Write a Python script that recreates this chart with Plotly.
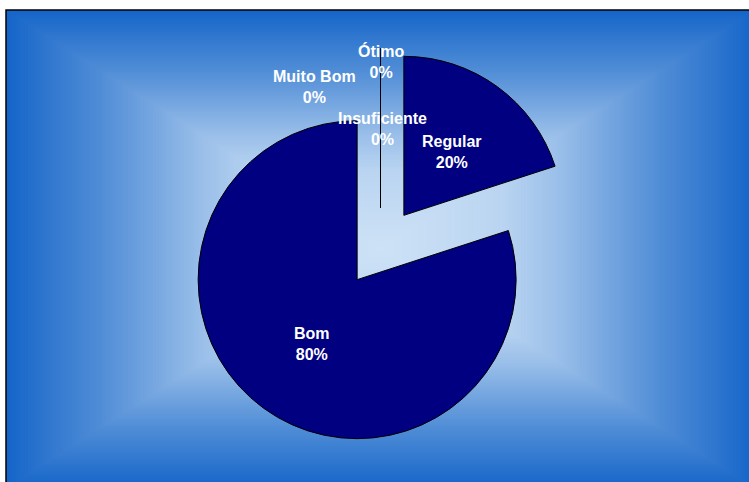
import plotly.graph_objects as go

# Data (clockwise from 12 o'clock)
categories = ["Insuficiente", "Regular", "Bom", "Muito Bom", "Ótimo"]
values = [0, 20, 80, 0, 0]
percent_labels = ["0%", "20%", "80%", "0%", "0%"]

W, H = 749, 482

fig = go.Figure()

fig.add_trace(go.Pie(
    labels=categories,
    values=values,
    sort=False,
    direction="clockwise",
    rotation=0,
    pull=[0.25] * len(values),
    marker=dict(colors=["#000080"] * len(values), line=dict(color="#000000", width=1)),
    textinfo="none",
    hoverinfo="label+percent",
    showlegend=False,
    domain=dict(x=[181.75 / W, 579.25 / W], y=[1 - 446.25 / H, 1 - 48.75 / H]),
))

# --- background: rectangular "from centre" gradient ---
cx, cy = 380.5, 249.0
hw, hh = 374.5, 239.0
c_center = (206, 226, 246)
c_edge = (21, 101, 200)
knots = [(0.0, 0.0), (0.33, 0.11), (0.48, 0.28), (0.6, 0.46), (0.75, 0.68),
         (0.88, 0.84), (1.0, 1.0)]


def frac(t):
    for (t0, f0), (t1, f1) in zip(knots[:-1], knots[1:]):
        if t <= t1:
            return f0 + (f1 - f0) * (t - t0) / (t1 - t0)
    return 1.0


def px(x):
    return x / W


def py(y):
    return 1 - y / H


shapes = []
N = 120
for i in range(N):
    t = 1 - i / N
    f = frac(t)
    col = tuple(round(c_center[k] + (c_edge[k] - c_center[k]) * f) for k in range(3))
    shapes.append(dict(
        type="rect", xref="paper", yref="paper", layer="below",
        x0=px(cx - hw * t), x1=px(cx + hw * t),
        y0=py(cy + hh * t), y1=py(cy - hh * t),
        fillcolor="rgb(%d,%d,%d)" % col, line=dict(width=0),
    ))
# frame border
shapes.append(dict(
    type="rect", xref="paper", yref="paper", layer="below",
    x0=px(6), x1=px(W + 10), y0=py(H + 10), y1=py(10),
    fillcolor="rgba(0,0,0,0)", line=dict(color="#000000", width=1.5),
))

# --- data labels ---
label_pos = {
    "Ótimo": (381, 62),
    "Muito Bom": (314, 87),
    "Insuficiente": (382.5, 129),
    "Regular": (451.5, 152),
    "Bom": (312, 344),
}
annotations = []
for cat, pct in zip(categories, percent_labels):
    x, y = label_pos[cat]
    annotations.append(dict(
        x=px(x), y=py(y), xref="paper", yref="paper",
        text="<b>%s<br>%s</b>" % (cat, pct), showarrow=False,
        xanchor="center", yanchor="middle", align="center",
        font=dict(family="Liberation Sans, Arial, sans-serif", size=16, color="#ffffff"),
    ))

fig.update_layout(
    width=W, height=H,
    margin=dict(l=0, r=0, t=0, b=0),
    paper_bgcolor="#ffffff",
    shapes=shapes,
    annotations=annotations,
)

fig.write_html(
    "out.html",
    config={"displayModeBar": False},
    post_script="document.body.style.margin='0';document.body.style.overflow='hidden';",
)
